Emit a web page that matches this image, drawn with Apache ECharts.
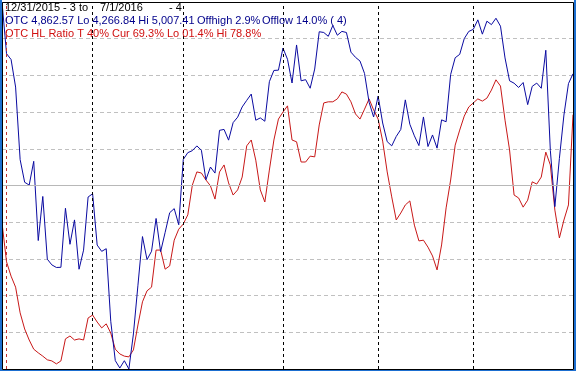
<!DOCTYPE html>
<html>
<head>
<meta charset="utf-8">
<script src="https://cdn.jsdelivr.net/npm/echarts@6/dist/echarts.min.js"></script>
<style>
html,body{margin:0;padding:0;background:#fff;}
#c{width:576px;height:371px;}
</style>
</head>
<body>
<div id="c"></div>
<script>
// Trading days 12/31/2015 .. 7/1/2016
const dates = ["12/31",
"1/4","1/5","1/6","1/7","1/8","1/11","1/12","1/13","1/14","1/15","1/19","1/20","1/21","1/22","1/25","1/26","1/27","1/28","1/29",
"2/1","2/2","2/3","2/4","2/5","2/8","2/9","2/10","2/11","2/12","2/16","2/17","2/18","2/19","2/22","2/23","2/24","2/25","2/26","2/29",
"3/1","3/2","3/3","3/4","3/7","3/8","3/9","3/10","3/11","3/14","3/15","3/16","3/17","3/18","3/21","3/22","3/23","3/24","3/28","3/29","3/30","3/31",
"4/1","4/4","4/5","4/6","4/7","4/8","4/11","4/12","4/13","4/14","4/15","4/18","4/19","4/20","4/21","4/22","4/25","4/26","4/27","4/28","4/29",
"5/2","5/3","5/4","5/5","5/6","5/9","5/10","5/11","5/12","5/13","5/16","5/17","5/18","5/19","5/20","5/23","5/24","5/25","5/26","5/27","5/31",
"6/1","6/2","6/3","6/6","6/7","6/8","6/9","6/10","6/13","6/14","6/15","6/16","6/17","6/20","6/21","6/22","6/23","6/24","6/27","6/28","6/29","6/30",
"7/1"];

// OTC (Nasdaq composite) close
const otc = [5007.41,
4903.09,4891.43,4835.76,4689.43,4643.63,4637.99,4685.92,4526.06,4615.00,4488.42,4476.95,4471.69,4472.06,4591.18,4518.49,4567.67,4468.17,4506.68,4613.95,
4620.37,4516.95,4504.24,4509.56,4363.14,4283.75,4268.76,4283.59,4266.84,4337.51,4435.96,4534.06,4487.54,4504.43,4570.61,4503.58,4542.61,4582.20,4590.47,4557.95,
4689.60,4703.42,4707.42,4717.02,4708.25,4648.82,4674.38,4662.16,4748.47,4750.28,4728.67,4763.97,4774.99,4795.65,4808.87,4821.66,4768.86,4773.50,4766.79,4846.62,4869.29,4869.85,
4914.54,4891.80,4843.93,4920.72,4848.37,4850.69,4833.40,4872.09,4947.42,4945.89,4938.22,4960.02,4940.33,4948.13,4945.89,4906.23,4895.79,4888.28,4863.14,4805.29,4775.36,
4817.59,4763.22,4725.64,4717.09,4736.16,4750.21,4809.88,4760.69,4737.33,4717.68,4775.46,4715.73,4739.12,4712.53,4769.56,4765.78,4861.06,4894.89,4901.77,4933.50,4948.05,
4952.25,4971.36,4942.52,4968.71,4961.75,4974.64,4958.62,4894.55,4848.44,4843.55,4834.93,4844.92,4800.34,4837.21,4843.76,4833.32,4910.04,4707.98,4594.44,4691.87,4779.25,4842.67,
4862.57];

// OTC HL ratio (%)
const hlRatio = [39.8,
29.2,25.3,22.3,15.3,10.9,7.9,5.4,4.4,3.5,2.5,2.2,1.4,2.2,8.2,9.0,7.9,8.2,7.9,13.9,
14.7,12.8,11.2,12.3,9.8,5.4,4.1,3.5,3.3,5.2,12.0,18.3,21.3,22.3,32.4,32.4,27.2,28.1,35.1,38.1,
39.5,42.0,50.1,53.7,53.4,51.5,49.9,46.3,53.7,55.6,50.7,47.4,48.8,52.3,60.8,62.4,56.9,48.8,45.5,54.2,62.4,68.1,
70.0,71.7,62.4,61.9,56.4,56.4,58.0,57.8,66.5,72.5,72.8,72.8,73.6,75.5,74.9,72.8,69.5,68.1,70.8,73.6,70.6,
68.1,62.1,53.7,46.9,40.6,42.5,44.7,45.8,39.2,34.9,35.1,33.2,30.8,27.0,33.8,43.9,51.5,61.0,65.1,68.9,71.4,
72.5,73.6,73.0,73.8,76.0,78.8,77.1,67.8,59.7,47.4,46.6,44.1,46.0,51.0,50.4,52.3,59.1,55.6,43.3,35.7,40.6,44.7,
69.3];

const monthStarts = ["2/1","3/1","4/1","5/2","6/1"];
const startMark = "1/4";

// header text pieces: [text, left x]
const header1 = [["12/31/2015 - 3 to", 5], ["7/1/2016", 100], ["- 4", 169]];
const header2 = [["OTC 4,862.57 Lo 4,266.84 Hi 5,007.41", 5], ["Offhigh 2.9%", 197], ["Offlow 14.0% ( 4)", 262]];
const header3 = [["OTC HL Ratio T 40% Cur 69.3% Lo 01.4% Hi 78.8%", 5]];

const chart = echarts.init(document.getElementById('c'), null, {renderer:'canvas'});
const frameBlue = '#1d6fd0';
const font = 'Liberation Sans';

function textItems(list, y, color){
  return list.map(([t,x]) => ({type:'text', z:10, silent:true,
    style:{text:t, x:x, y:y, fill:color, fontSize:11, fontFamily:font, verticalAlign:'top'}}));
}

chart.setOption({
  animation:false,
  backgroundColor:'#ffffff',
  grid:{left:2, top:2, right:3, bottom:2, containLabel:false},
  xAxis:{type:'category', data:dates, boundaryGap:false,
    axisLine:{show:false}, axisTick:{show:false}, axisLabel:{show:false}, splitLine:{show:false}},
  yAxis:[
    {type:'value', min:4266.84, max:5007.41, show:false, splitLine:{show:false}},
    {type:'value', min:0, max:100, interval:10, position:'right',
      axisLine:{show:false}, axisTick:{show:false}, axisLabel:{show:false},
      splitLine:{show:true, lineStyle:{color:'#c0c0c0', width:1, type:[4,3]}}}
  ],
  series:[
    {type:'line', yAxisIndex:1, data:[], silent:true, z:1,
      markLine:{silent:true, symbol:'none', label:{show:false}, animation:false,
        data:[
          {yAxis:50, lineStyle:{color:'#b8b8b8', type:'solid', width:1}},
          {xAxis:startMark, lineStyle:{color:'#c03030', type:[3,3], width:1}},
          ...monthStarts.map(m=>({xAxis:m, lineStyle:{color:'#000000', type:[3,3], width:1}}))
        ]}},
    {name:'HL', type:'line', yAxisIndex:1, data:hlRatio, showSymbol:false, z:3,
      lineStyle:{color:'#c81818', width:1}},
    {name:'OTC', type:'line', yAxisIndex:0, data:otc, showSymbol:false, z:4,
      lineStyle:{color:'#0a0aa0', width:1}}
  ],
  graphic:[
    ...textItems(header1, 2, '#000000'),
    ...textItems(header2, 15, '#00008b'),
    ...textItems(header3, 28, '#d01010'),
    {type:'rect', z:20, silent:true, shape:{x:2.5, y:2.5, width:571, height:367}, style:{fill:null, stroke:'#000000', lineWidth:1}},
    {type:'rect', z:21, silent:true, shape:{x:0, y:0, width:2, height:371}, style:{fill:frameBlue}},
    {type:'rect', z:21, silent:true, shape:{x:574, y:0, width:2, height:371}, style:{fill:frameBlue}},
    {type:'rect', z:21, silent:true, shape:{x:0, y:370, width:576, height:1}, style:{fill:frameBlue}}
  ]
});
</script>
</body>
</html>
